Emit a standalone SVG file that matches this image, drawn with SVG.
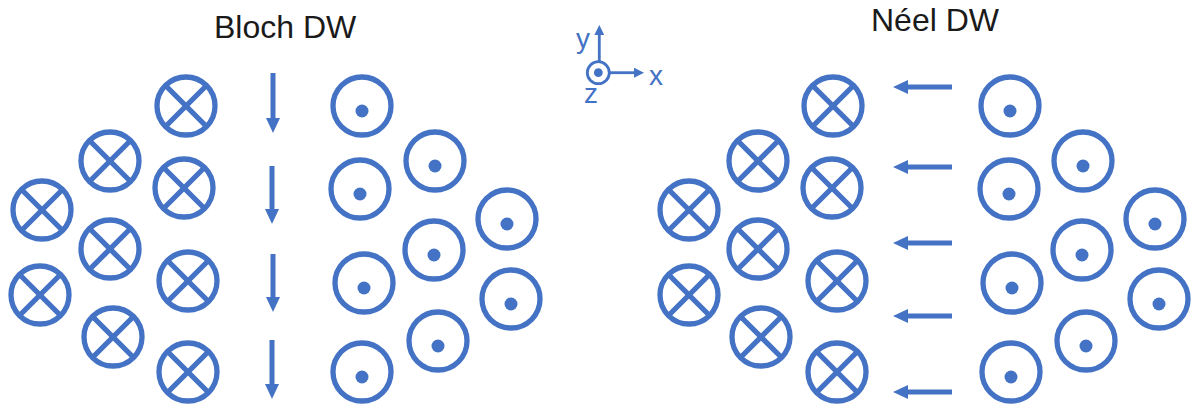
<svg xmlns="http://www.w3.org/2000/svg" xmlns:xlink="http://www.w3.org/1999/xlink" width="1197" height="409" viewBox="0 0 1197 409">
<style>
.ring{fill:none;stroke:#4472C4;stroke-width:5.3}
.cross{stroke:#4472C4;stroke-width:5.3}
.dot{fill:#4472C4}
.arr{stroke:#4472C4;stroke-width:5;fill:none}
.ax{stroke:#4472C4;stroke-width:2.8;fill:none}
.title{font-family:"Liberation Sans",Arial,sans-serif;font-size:32px;fill:#1a1a1a}
.axl{font-family:"Liberation Sans",Arial,sans-serif;font-size:28px;fill:#4472C4}
</style>
<defs>
<g id="xc">
<circle class="ring" cx="0" cy="0" r="29"/>
<line class="cross" x1="-20.5" y1="-20.5" x2="20.5" y2="20.5"/>
<line class="cross" x1="20.5" y1="-20.5" x2="-20.5" y2="20.5"/>
</g>
<g id="dc">
<circle class="ring" cx="0" cy="0" r="29"/>
<circle class="dot" cx="0" cy="5" r="6.5"/>
</g>
<marker id="ah" markerUnits="userSpaceOnUse" markerWidth="15" markerHeight="14" viewBox="0 0 15 14" refX="0" refY="7" orient="auto">
<path d="M0,0 L15,7 L0,14 z" fill="#4472C4"/>
</marker>
<marker id="ahs" markerUnits="userSpaceOnUse" markerWidth="10" markerHeight="10" viewBox="0 0 10 10" refX="0" refY="5" orient="auto">
<path d="M0,0 L10,5 L0,10 z" fill="#4472C4"/>
</marker>
</defs>
<rect width="1197" height="409" fill="#ffffff"/>
<text class="title" x="214" y="38">Bloch DW</text>
<text class="title" x="871" y="31">Néel DW</text>
<g id="axes">
<circle class="ax" cx="598.3" cy="72.7" r="11"/>
<circle class="dot" cx="598.3" cy="72.7" r="4.4"/>
<line class="ax" x1="599.3" y1="61" x2="599.3" y2="35" marker-end="url(#ahs)"/>
<line class="ax" x1="610" y1="72.7" x2="634" y2="72.7" marker-end="url(#ahs)"/>
<text class="axl" x="576" y="47.5">y</text>
<text class="axl" x="649" y="84.5">x</text>
<text class="axl" x="584" y="103">z</text>
</g>
<g id="bloch-in">
<g id="b-in-1"><use xlink:href="#xc" x="186" y="106"/></g>
<g id="b-in-2"><use xlink:href="#xc" x="110" y="161"/></g>
<g id="b-in-3"><use xlink:href="#xc" x="184" y="188"/></g>
<g id="b-in-4"><use xlink:href="#xc" x="42" y="210"/></g>
<g id="b-in-5"><use xlink:href="#xc" x="110" y="249"/></g>
<g id="b-in-6"><use xlink:href="#xc" x="188" y="281"/></g>
<g id="b-in-7"><use xlink:href="#xc" x="40" y="295"/></g>
<g id="b-in-8"><use xlink:href="#xc" x="113" y="337"/></g>
<g id="b-in-9"><use xlink:href="#xc" x="188" y="372"/></g>
</g>
<g id="bloch-out">
<g id="b-out-1"><use xlink:href="#dc" x="362" y="106"/></g>
<g id="b-out-2"><use xlink:href="#dc" x="435" y="161"/></g>
<g id="b-out-3"><use xlink:href="#dc" x="360" y="189"/></g>
<g id="b-out-4"><use xlink:href="#dc" x="507" y="219"/></g>
<g id="b-out-5"><use xlink:href="#dc" x="434" y="250"/></g>
<g id="b-out-6"><use xlink:href="#dc" x="364" y="283"/></g>
<g id="b-out-7"><use xlink:href="#dc" x="511" y="299"/></g>
<g id="b-out-8"><use xlink:href="#dc" x="438" y="341"/></g>
<g id="b-out-9"><use xlink:href="#dc" x="362" y="372"/></g>
</g>
<g id="neel-in">
<g id="n-in-1"><use xlink:href="#xc" x="833" y="106"/></g>
<g id="n-in-2"><use xlink:href="#xc" x="758" y="161"/></g>
<g id="n-in-3"><use xlink:href="#xc" x="832" y="188"/></g>
<g id="n-in-4"><use xlink:href="#xc" x="689" y="210"/></g>
<g id="n-in-5"><use xlink:href="#xc" x="758" y="249"/></g>
<g id="n-in-6"><use xlink:href="#xc" x="837" y="281"/></g>
<g id="n-in-7"><use xlink:href="#xc" x="689" y="295"/></g>
<g id="n-in-8"><use xlink:href="#xc" x="761" y="337"/></g>
<g id="n-in-9"><use xlink:href="#xc" x="837" y="372"/></g>
</g>
<g id="neel-out">
<g id="n-out-1"><use xlink:href="#dc" x="1010" y="106"/></g>
<g id="n-out-2"><use xlink:href="#dc" x="1083" y="161"/></g>
<g id="n-out-3"><use xlink:href="#dc" x="1009" y="189"/></g>
<g id="n-out-4"><use xlink:href="#dc" x="1155" y="219"/></g>
<g id="n-out-5"><use xlink:href="#dc" x="1082" y="250"/></g>
<g id="n-out-6"><use xlink:href="#dc" x="1012" y="283"/></g>
<g id="n-out-7"><use xlink:href="#dc" x="1159" y="299"/></g>
<g id="n-out-8"><use xlink:href="#dc" x="1086" y="341"/></g>
<g id="n-out-9"><use xlink:href="#dc" x="1011" y="372"/></g>
</g>
<g id="connectors">
<line class="arr" x1="273" y1="73" x2="273" y2="118" marker-end="url(#ah)"/>
<line class="arr" x1="272" y1="166" x2="272" y2="209" marker-end="url(#ah)"/>
<line class="arr" x1="273" y1="254" x2="273" y2="297" marker-end="url(#ah)"/>
<line class="arr" x1="272" y1="340" x2="272" y2="384" marker-end="url(#ah)"/>
<line class="arr" x1="952" y1="87" x2="908" y2="87" marker-end="url(#ah)"/>
<line class="arr" x1="952" y1="167" x2="908" y2="167" marker-end="url(#ah)"/>
<line class="arr" x1="952" y1="243" x2="908" y2="243" marker-end="url(#ah)"/>
<line class="arr" x1="952" y1="316" x2="908" y2="316" marker-end="url(#ah)"/>
<line class="arr" x1="952" y1="392" x2="908" y2="392" marker-end="url(#ah)"/>
</g>
</svg>
